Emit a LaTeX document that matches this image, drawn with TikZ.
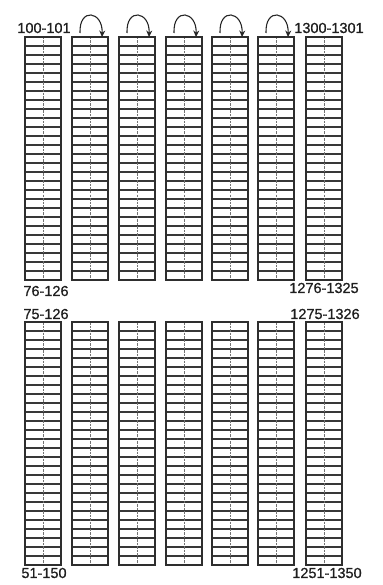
\documentclass[tikz,border=0pt]{standalone}
\usepackage{fontspec}
\setmainfont{Liberation Sans}
\newfontfamily\lblfont[FakeBold=0.8]{Liberation Sans}
\usetikzlibrary{arrows.meta}
\begin{document}
\begin{tikzpicture}[x=1pt,y=-1pt,
  colbox/.style={draw=black!82, line width=1.7pt, inner sep=0pt, outer sep=0pt,
    minimum width=36pt, minimum height=243pt, anchor=north west,
    path picture={
      \foreach \k in {1,...,26}
        \draw[rowline] ([yshift=-\k*9pt]path picture bounding box.north west) -- ([yshift=-\k*9pt]path picture bounding box.north east);
      \draw[midline] (path picture bounding box.north) -- (path picture bounding box.south);
    }},
  rowline/.style={draw=black!78, line width=1.1pt},
  midline/.style={draw=black!55, line width=0.6pt, dash pattern=on 2.5pt off 1pt},
  turn/.style={draw=black!85, line width=1.1pt, -{Stealth[length=6.5pt,width=6pt]}},
  lbl/.style={font=\lblfont\fontsize{14.5}{15}\selectfont, text=black!88, inner sep=0pt}]
\useasboundingbox (0,0) rectangle (382,585);
\fill[white] (0,0) rectangle (382,585);
% columns
\foreach \i/\xx in {1/25,2/72,3/119,4/166,5/212,6/258,7/306}{
  \node[colbox] (t\i) at (\xx,37) {};
  \node[colbox] (b\i) at (\xx,322) {};
}
% turn arrows
\foreach \i in {2,...,6}{
  \coordinate (s\i) at ([xshift=8pt,yshift=4pt]t\i.north west);
  \coordinate (e\i) at ([xshift=-6pt]t\i.north east);
  \draw[turn] (s\i) .. controls +(-1,-26) and +(1,-26) .. (e\i);
}
% labels
\node[lbl] (l1) at (44,28) {100-101};
\node[lbl] (l2) at (329,28) {1300-1301};
\node[lbl] (l3) at (46,291) {76-126};
\node[lbl] (l4) at (46,314) {75-126};
\node[lbl] (l5) at (324,288) {1276-1325};
\node[lbl] (l6) at (325,314) {1275-1326};
\node[lbl] (l7) at (44,573) {51-150};
\node[lbl] (l8) at (327,573) {1251-1350};
\end{tikzpicture}
\end{document}
